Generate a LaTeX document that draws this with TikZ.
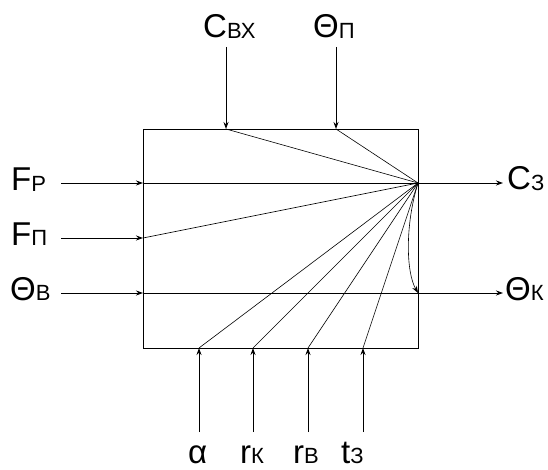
\documentclass[tikz,border=0pt]{standalone}
\usepackage{fontspec}
\setmainfont{Liberation Sans}
\usetikzlibrary{arrows.meta}
\newcommand{\lbl}[2]{{\fontsize{33}{33}\selectfont #1}\raisebox{-0.5pt}{\fontsize{22}{22}\selectfont #2}}
\begin{document}
\begin{tikzpicture}[x=1pt,y=-1pt,
  conn/.style={line width=0.9pt,-{Stealth[length=7pt,width=5pt]}},
  fan/.style={line width=0.6pt},
  frame/.style={line width=0.9pt},
  lab/.style={inner sep=0pt,anchor=base west}]
\useasboundingbox (0,0) rectangle (548,470);
% box
\coordinate (tl) at (143,129);
\coordinate (br) at (418,348);
\draw[frame] (tl) rectangle (br);
\coordinate (hub) at (418,183);
% edge points
\coordinate (eCin) at (226,129);
\coordinate (eTp) at (336,129);
\coordinate (eFr) at (143,183);
\coordinate (eFp) at (143,238);
\coordinate (eTb) at (143,293);
\coordinate (eTbr) at (418,293);
\coordinate (ea) at (199,348);
\coordinate (erk) at (253,348);
\coordinate (erb) at (308,348);
\coordinate (et) at (363,348);
% free ends
\coordinate (sCin) at (226,47);
\coordinate (sTp) at (336,47);
\coordinate (sFr) at (61,183);
\coordinate (sFp) at (61,238);
\coordinate (sTb) at (61,293);
\coordinate (oC) at (503,183);
\coordinate (oT) at (503,293);
\coordinate (sa) at (199,432);
\coordinate (srk) at (253,432);
\coordinate (srb) at (308,432);
\coordinate (st) at (363,432);
% labels
\node[lab] (Lcin) at (203,38) {\lbl{C}{ВХ}};
\node[lab] (Ltp) at (313,38) {\lbl{Θ}{П}};
\node[lab] (Lfr) at (11,191) {\lbl{F}{Р}};
\node[lab] (Lfp) at (11,245) {\lbl{F}{П}};
\node[lab] (Ltb) at (10,300) {\lbl{Θ}{В}};
\node[lab] (Lc) at (507,190) {\lbl{C}{З}};
\node[lab] (Ltk) at (505,300) {\lbl{Θ}{К}};
\node[lab] (La) at (188,463) {\lbl{α}{}};
\node[lab] (Lrk) at (240,463) {\lbl{r}{К}};
\node[lab] (Lrb) at (293,463) {\lbl{r}{В}};
\node[lab] (Lt) at (341,463) {\lbl{t}{З}};
% input arrows
\draw[conn] (sCin) -- (eCin);
\draw[conn] (sTp) -- (eTp);
\draw[conn] (sFr) -- (eFr);
\draw[conn] (sFp) -- (eFp);
\draw[conn] (sTb) -- (eTb);
\draw[conn] (sa) -- (ea);
\draw[conn] (srk) -- (erk);
\draw[conn] (srb) -- (erb);
\draw[conn] (st) -- (et);
% outputs
\draw[conn] (hub) -- (oC);
\draw[conn] (eTb) -- (oT);
% fan
\draw[fan] (eCin) -- (hub);
\draw[fan] (eTp) -- (hub);
\draw[fan] (eFr) -- (hub);
\draw[fan] (eFp) -- (hub);
\draw[fan] (ea) -- (hub);
\draw[fan] (erk) -- (hub);
\draw[fan] (erb) -- (hub);
\draw[fan] (et) -- (hub);
\draw[fan,-{Stealth[length=7pt,width=5pt]}] (hub) .. controls (405,225) and (406,272) .. (eTbr);
\end{tikzpicture}
\end{document}
